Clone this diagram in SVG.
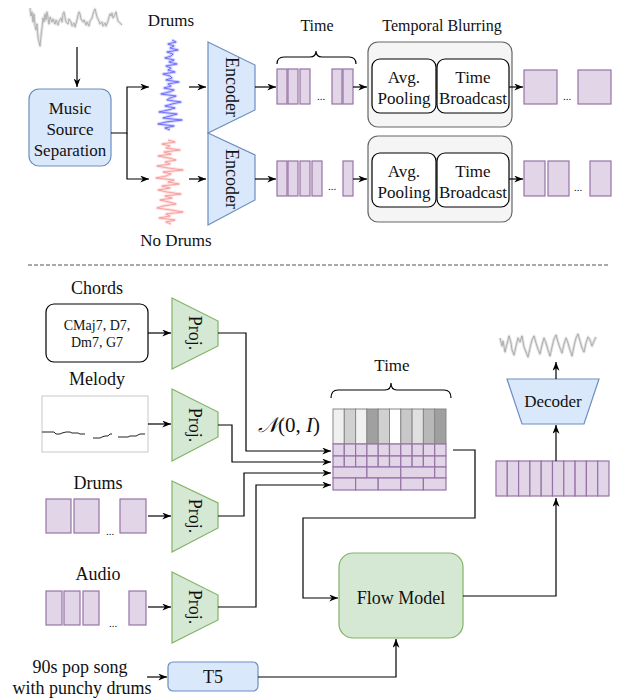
<svg xmlns="http://www.w3.org/2000/svg" width="619" height="698" viewBox="0 0 619 698" font-family="'Liberation Serif','Times New Roman',serif">
<defs>
<marker id="arr" viewBox="0 0 10 8" refX="10" refY="4" markerWidth="9" markerHeight="7" markerUnits="userSpaceOnUse" orient="auto">
<path d="M0,0 L10,4 L0,8 L3,4 z" fill="#000"/>
</marker>
<style>
text{font-family:"Liberation Serif","Times New Roman",serif;fill:#111;text-anchor:middle}
.blue{fill:#dae8fc;stroke:#6c8ebf;stroke-width:1.2}
.green{fill:#d5e8d4;stroke:#82b366;stroke-width:1.2}
.pur{fill:#e1d5e7;stroke:#9673a6;stroke-width:1.2}
.gcell{stroke:#888;stroke-width:1}
.tb{fill:#f5f5f5;stroke:#666;stroke-width:1.2}
.wb{fill:#fff;stroke:#000;stroke-width:1.2}
.con{fill:none;stroke:#000;stroke-width:1.2}
.arr{marker-end:url(#arr)}
.f17{font-size:17px}
.f18{font-size:18px}
.f16{font-size:16px}
.dots{font-size:11px}
.wenv{fill:none;stroke-width:3;stroke-linejoin:round}
.wcore{fill:none;stroke-width:0.7;stroke-linejoin:round}
</style>
</defs>

<!-- ========== TOP SECTION ========== -->
<g id="input-wave">
<polyline class="wenv" stroke="#e2e2e2" points="30,8 31,16 32,12 33,22 34,14 35,26 36,30 37,24 38,38 39,42 40,46 41,36 42,28 43,18 44,22 45,14 46,20 47,12 48,18 49,24 50,17 52,22 53,19 55,24 56,20 58,25 59,21 61,18 62,22 63,14 64,12 65,17 66,22 68,24 69,19 71,22 72,26 74,23 75,27 77,20 78,15 79,12 80,14 81,19 83,22 84,20 86,25 87,22 89,26 90,21 92,18 93,14 94,11 95,9 96,13 97,17 99,21 100,24 102,22 103,26 105,23 106,26 108,21 109,17 110,14 111,16 112,13 113,18 115,15 116,12 117,17 118,21 120,23 122,25"/>
<polyline class="wcore" stroke="#a0a0a0" points="30,8 31,16 32,12 33,22 34,14 35,26 36,30 37,24 38,38 39,42 40,46 41,36 42,28 43,18 44,22 45,14 46,20 47,12 48,18 49,24 50,17 52,22 53,19 55,24 56,20 58,25 59,21 61,18 62,22 63,14 64,12 65,17 66,22 68,24 69,19 71,22 72,26 74,23 75,27 77,20 78,15 79,12 80,14 81,19 83,22 84,20 86,25 87,22 89,26 90,21 92,18 93,14 94,11 95,9 96,13 97,17 99,21 100,24 102,22 103,26 105,23 106,26 108,21 109,17 110,14 111,16 112,13 113,18 115,15 116,12 117,17 118,21 120,23 122,25"/>
</g>

<g id="mss">
<rect class="blue" x="29" y="89" width="82" height="77" rx="10"/>
<text class="f17" x="70" y="114">Music</text>
<text class="f17" x="70" y="135">Source</text>
<text class="f17" x="70" y="156">Separation</text>
</g>

<g id="drums-wave">
<text class="f17" x="171" y="26">Drums</text>
<polyline class="wenv" stroke="#cfcfff" points="172,40 176,42 168,44 174,46 170,48 178,50 167,52 173,54 171,56 165,58 174,60 169,62 177,64 166,66 171,68 168,70 175,72 163,74 170,76 172,78 166,80 179,82 168,84 171,86 164,88 174,90 169,92 161,94 176,96 170,98 167,100 181,102 172,104 165,106 175,108 168,110 159,112 177,114 170,116 163,118 182,120 166,122 158,124 174,126 165,128 170,130"/>
<polyline class="wcore" stroke="#4a4aff" points="172,40 176,42 168,44 174,46 170,48 178,50 167,52 173,54 171,56 165,58 174,60 169,62 177,64 166,66 171,68 168,70 175,72 163,74 170,76 172,78 166,80 179,82 168,84 171,86 164,88 174,90 169,92 161,94 176,96 170,98 167,100 181,102 172,104 165,106 175,108 168,110 159,112 177,114 170,116 163,118 182,120 166,122 158,124 174,126 165,128 170,130"/>
</g>

<g id="nodrums-wave">
<polyline class="wenv" stroke="#ffdede" points="168,140 175,142 162,144 170,146 166,148 180,150 164,152 171,154 158,156 169,158 176,160 165,162 170,164 157,166 168,168 183,170 163,172 171,174 166,176 156,178 174,180 168,182 179,184 162,186 170,188 158,190 167,192 181,194 165,196 172,198 160,200 169,202 176,204 163,206 157,208 171,210 183,212 166,214 170,216 159,218 175,220 166,222 171,224"/>
<polyline class="wcore" stroke="#f08a8a" points="168,140 175,142 162,144 170,146 166,148 180,150 164,152 171,154 158,156 169,158 176,160 165,162 170,164 157,166 168,168 183,170 163,172 171,174 166,176 156,178 174,180 168,182 179,184 162,186 170,188 158,190 167,192 181,194 165,196 172,198 160,200 169,202 176,204 163,206 157,208 171,210 183,212 166,214 170,216 159,218 175,220 166,222 171,224"/>
<text class="f17" x="176" y="246">No Drums</text>
</g>

<g id="encoder-1">
<polygon class="blue" points="208,42 255,65 255,110 208,133"/>
<text class="f18" transform="translate(232,87) rotate(90)" y="6">Encoder</text>
</g>
<g id="encoder-2">
<polygon class="blue" points="208,133 255,155 255,200 208,225"/>
<text class="f18" transform="translate(232,179) rotate(90)" y="6">Encoder</text>
</g>

<g id="latents-drums">
<path d="M277,64 Q277,57 284,57 H310 Q316,57 316,51 Q316,57 322,57 H349 Q356,57 356,64" fill="none" stroke="#000" stroke-width="1.2"/>
<text class="f16" x="317" y="31">Time</text>
<rect class="pur" x="277" y="69" width="10" height="35"/>
<rect class="pur" x="288" y="69" width="10" height="35"/>
<rect class="pur" x="300" y="69" width="10" height="35"/>
<text class="dots" x="321" y="100">...</text>
<rect class="pur" x="332" y="69" width="10" height="35"/>
<rect class="pur" x="343" y="69" width="10" height="35"/>
</g>
<g id="latents-nodrums">
<rect class="pur" x="277" y="161" width="10" height="35"/>
<rect class="pur" x="288" y="161" width="10" height="35"/>
<rect class="pur" x="300" y="161" width="10" height="35"/>
<rect class="pur" x="312" y="161" width="10" height="35"/>
<text class="dots" x="332" y="190">...</text>
<rect class="pur" x="343" y="161" width="10" height="35"/>
</g>

<g id="blur-1">
<text class="f16" x="442" y="31">Temporal Blurring</text>
<rect class="tb" x="368" y="42" width="144" height="85" rx="10"/>
<rect class="wb" x="372" y="59" width="64" height="54" rx="8"/>
<rect class="wb" x="437" y="59" width="72" height="54" rx="8"/>
<text class="f17" x="404" y="83">Avg.</text>
<text class="f17" x="404" y="104">Pooling</text>
<text class="f17" x="473" y="83">Time</text>
<text class="f17" x="473" y="104">Broadcast</text>
</g>
<g id="blur-2">
<rect class="tb" x="368" y="136" width="144" height="86" rx="10"/>
<rect class="wb" x="372" y="153" width="64" height="54" rx="8"/>
<rect class="wb" x="437" y="153" width="72" height="54" rx="8"/>
<text class="f17" x="404" y="177">Avg.</text>
<text class="f17" x="404" y="198">Pooling</text>
<text class="f17" x="473" y="177">Time</text>
<text class="f17" x="473" y="198">Broadcast</text>
</g>

<g id="blurred-drums">
<rect class="pur" x="524" y="70" width="33" height="34"/>
<text class="dots" x="567" y="100">...</text>
<rect class="pur" x="578" y="70" width="33" height="34"/>
</g>
<g id="blurred-nodrums">
<rect class="pur" x="524" y="161" width="21" height="35"/>
<rect class="pur" x="548" y="161" width="21" height="35"/>
<text class="dots" x="578" y="191">...</text>
<rect class="pur" x="590" y="161" width="21" height="35"/>
</g>

<line id="separator" x1="28" y1="265" x2="610" y2="265" stroke="#555" stroke-width="1.2" stroke-dasharray="4,2"/>

<!-- ========== BOTTOM SECTION ========== -->
<g id="chords">
<text class="f18" x="97" y="294">Chords</text>
<rect class="wb" x="46" y="304" width="102" height="58" rx="8"/>
<text x="97" y="330" font-size="14">CMaj7, D7,</text>
<text x="97" y="347" font-size="14">Dm7, G7</text>
</g>
<g id="melody">
<text class="f18" x="97" y="385">Melody</text>
<rect x="42" y="396" width="106" height="56" fill="#fff" stroke="#c8c8c8" stroke-width="1"/>
<path d="M42,432 H54 L56,434 H60 L62,433 L66,432 H70 L72,433 H78 L80,434 H85 M93,438 H100 L102,437 L105,436 H108 L110,434 H112 M118,437 H128 L130,436 H136 L140,434 H145" fill="none" stroke="#222" stroke-width="1"/>
</g>
<g id="drums-in">
<text class="f18" x="98" y="489">Drums</text>
<rect class="pur" x="46" y="499" width="25" height="34"/>
<rect class="pur" x="74" y="499" width="25" height="34"/>
<text class="dots" x="110" y="535">...</text>
<rect class="pur" x="120" y="499" width="26" height="34"/>
</g>
<g id="audio-in">
<text class="f18" x="98" y="580">Audio</text>
<rect class="pur" x="46" y="591" width="16" height="34"/>
<rect class="pur" x="64" y="591" width="16" height="34"/>
<rect class="pur" x="83" y="591" width="16" height="34"/>
<text class="dots" x="113" y="627">...</text>
<rect class="pur" x="129" y="591" width="17" height="34"/>
</g>
<g id="prompt">
<text class="f18" x="80" y="673">90s pop song</text>
<text class="f18" x="82" y="694">with punchy drums</text>
</g>

<g id="proj-chords">
<polygon class="green" points="172,298 218,321 218,346 172,369"/>
<text class="f18" transform="translate(195,333) rotate(90)" y="6">Proj.</text>
</g>
<g id="proj-melody">
<polygon class="green" points="172,389 218,412 218,437 172,461"/>
<text class="f18" transform="translate(195,425) rotate(90)" y="6">Proj.</text>
</g>
<g id="proj-drums">
<polygon class="green" points="172,481 218,503 218,528 172,552"/>
<text class="f18" transform="translate(195,516) rotate(90)" y="6">Proj.</text>
</g>
<g id="proj-audio">
<polygon class="green" points="172,572 218,595 218,620 172,643"/>
<text class="f18" transform="translate(195,607) rotate(90)" y="6">Proj.</text>
</g>

<g id="t5">
<rect class="blue" x="168" y="662" width="90" height="29" rx="5"/>
<text class="f18" x="213" y="683">T5</text>
</g>

<g id="grid">
<text x="289" y="432" font-size="21"><tspan font-style="italic">𝒩</tspan>(0, <tspan font-style="italic">I</tspan>)</text>
<path d="M331,398 Q331,390 338,390 H385 Q391,390 391,383 Q391,390 397,390 H444 Q451,390 451,398" fill="none" stroke="#000" stroke-width="1.2"/>
<text x="392" y="371" font-size="17">Time</text>
<rect class="gcell" x="333" y="409" width="11.3" height="35" fill="#f0f0f0"/>
<rect class="gcell" x="344.3" y="409" width="11.3" height="35" fill="#d0d0d0"/>
<rect class="gcell" x="355.6" y="409" width="11.3" height="35" fill="#f0f0f0"/>
<rect class="gcell" x="366.9" y="409" width="11.3" height="35" fill="#a0a0a0"/>
<rect class="gcell" x="378.2" y="409" width="11.3" height="35" fill="#d0d0d0"/>
<rect class="gcell" x="389.5" y="409" width="11.3" height="35" fill="#ffffff"/>
<rect class="gcell" x="400.8" y="409" width="11.3" height="35" fill="#c8c8c8"/>
<rect class="gcell" x="412.1" y="409" width="11.3" height="35" fill="#e0e0e0"/>
<rect class="gcell" x="423.4" y="409" width="11.3" height="35" fill="#b8b8b8"/>
<rect class="gcell" x="434.7" y="409" width="11.3" height="35" fill="#a0a0a0"/>
<g class="pur">
<rect x="333" y="444" width="11.3" height="12"/><rect x="344.3" y="444" width="11.3" height="12"/><rect x="355.6" y="444" width="11.3" height="12"/><rect x="366.9" y="444" width="11.3" height="12"/><rect x="378.2" y="444" width="11.3" height="12"/><rect x="389.5" y="444" width="11.3" height="12"/><rect x="400.8" y="444" width="11.3" height="12"/><rect x="412.1" y="444" width="11.3" height="12"/><rect x="423.4" y="444" width="11.3" height="12"/><rect x="434.7" y="444" width="11.3" height="12"/>
<rect x="333" y="456" width="11.3" height="11"/><rect x="344.3" y="456" width="11.3" height="11"/><rect x="355.6" y="456" width="11.3" height="11"/><rect x="366.9" y="456" width="11.3" height="11"/><rect x="378.2" y="456" width="11.3" height="11"/><rect x="389.5" y="456" width="11.3" height="11"/><rect x="400.8" y="456" width="11.3" height="11"/><rect x="412.1" y="456" width="11.3" height="11"/><rect x="423.4" y="456" width="11.3" height="11"/><rect x="434.7" y="456" width="11.3" height="11"/>
<rect x="333" y="467" width="33.9" height="11"/><rect x="366.9" y="467" width="33.9" height="11"/><rect x="400.8" y="467" width="33.9" height="11"/><rect x="434.7" y="467" width="11.3" height="11"/>
<rect x="333" y="478" width="22.6" height="12"/><rect x="355.6" y="478" width="22.6" height="12"/><rect x="378.2" y="478" width="22.6" height="12"/><rect x="400.8" y="478" width="22.6" height="12"/><rect x="423.4" y="478" width="22.6" height="12"/>
</g>
</g>

<g id="flow-model">
<rect class="green" x="339" y="553" width="124" height="85" rx="14"/>
<text class="f18" x="401" y="604">Flow Model</text>
</g>

<g id="latent-out">
<g class="pur">
<rect x="496" y="461" width="11.3" height="35"/><rect x="507.3" y="461" width="11.3" height="35"/><rect x="518.6" y="461" width="11.3" height="35"/><rect x="529.9" y="461" width="11.3" height="35"/><rect x="541.2" y="461" width="11.3" height="35"/><rect x="552.5" y="461" width="11.3" height="35"/><rect x="563.8" y="461" width="11.3" height="35"/><rect x="575.1" y="461" width="11.3" height="35"/><rect x="586.4" y="461" width="11.3" height="35"/><rect x="597.7" y="461" width="11.3" height="35"/>
</g>
</g>

<g id="decoder">
<polygon class="blue" points="507,379 599,379 584,424 522,424"/>
<text class="f17" x="553" y="407">Decoder</text>
</g>

<g id="output-wave">
<polyline class="wenv" stroke="#e2e2e2" points="500,338 502,346 503,341 505,352 507,344 509,336 511,343 512,350 514,355 516,346 518,338 520,342 522,336 524,347 526,352 528,357 530,348 532,340 534,336 536,343 538,349 540,354 542,345 544,338 546,343 548,350 550,356 552,347 554,339 556,335 558,342 560,348 562,353 564,344 566,338 568,343 570,350 572,356 574,346 576,338 578,334 580,341 582,348 584,352 586,343 588,337 590,340 592,346 594,341 596,337"/>
<polyline class="wcore" stroke="#9a9a9a" points="500,338 502,346 503,341 505,352 507,344 509,336 511,343 512,350 514,355 516,346 518,338 520,342 522,336 524,347 526,352 528,357 530,348 532,340 534,336 536,343 538,349 540,354 542,345 544,338 546,343 548,350 550,356 552,347 554,339 556,335 558,342 560,348 562,353 564,344 566,338 568,343 570,350 572,356 574,346 576,338 578,334 580,341 582,348 584,352 586,343 588,337 590,340 592,346 594,341 596,337"/>
</g>

<!-- ========== CONNECTORS ========== -->
<g id="connectors" class="con">
<path class="arr" d="M77,47 V87"/>
<path class="arr" d="M111,133 H127 V87 H149"/>
<path class="arr" d="M127,133 V179 H149"/>
<path class="arr" d="M189,87 H206"/>
<path class="arr" d="M189,179 H206"/>
<path class="arr" d="M255,87 H276"/>
<path class="arr" d="M255,179 H276"/>
<path class="arr" d="M353,87 H367"/>
<path class="arr" d="M353,179 H367"/>
<path class="arr" d="M509,87 H523"/>
<path class="arr" d="M509,179 H523"/>

<path class="arr" d="M148,333 H171"/>
<path class="arr" d="M148,424 H171"/>
<path class="arr" d="M148,516 H171"/>
<path class="arr" d="M148,607 H171"/>
<path class="arr" d="M147,677 H167"/>

<path class="arr" d="M218,333 H246 V451 H331"/>
<path class="arr" d="M218,425 H232 V462 H331"/>
<path class="arr" d="M218,516 H244 V473 H331"/>
<path class="arr" d="M218,607 H256 V485 H331"/>

<path class="arr" d="M453,450 H475 V518 H303 V598 H338"/>
<path class="arr" d="M258,677 H396 V639"/>
<path class="arr" d="M463,596 H556 V498"/>
<path class="arr" d="M556,461 V425"/>
<path class="arr" d="M556,379 V362"/>
</g>
</svg>
